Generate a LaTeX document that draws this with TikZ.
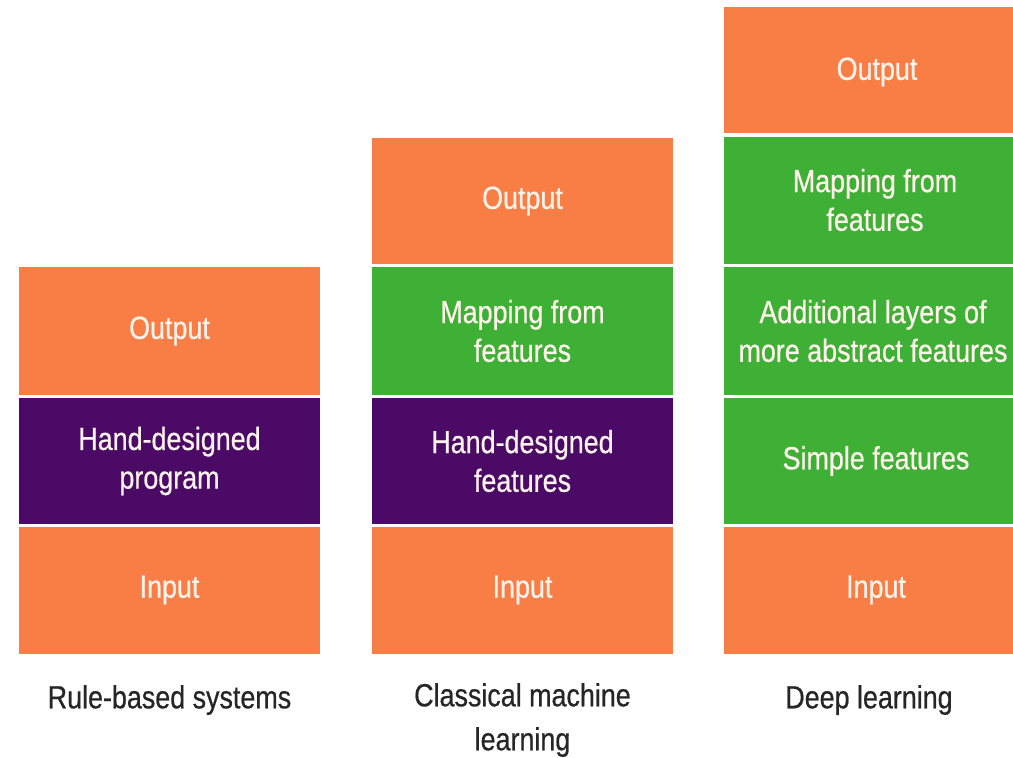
\documentclass[tikz,border=0pt]{standalone}
\usepackage{fontspec}
\setmainfont[FakeStretch=0.84,FakeBold=0.6]{Liberation Sans}
\definecolor{orng}{HTML}{F87E46}
\definecolor{purp}{HTML}{4A0A66}
\definecolor{grn}{HTML}{3DB035}
\definecolor{txtw}{HTML}{FFF3EC}
\definecolor{lbl}{HTML}{262626}
\tikzset{
  layer/.style={draw=none, inner sep=0pt, align=center, text=txtw, font=\fontsize{24}{29}\selectfont},
  caption/.style={inner sep=0pt, align=center, text=lbl, font=\fontsize{24}{33}\selectfont}
}
\begin{document}
\begin{tikzpicture}[x=0.75pt, y=-0.75pt]
\useasboundingbox (0,0) rectangle (1013,757);
\fill[white] (0,0) rectangle (1013,757);
% column 1
\fill[orng] (19,267) rectangle (320,395);
\fill[purp] (19,398) rectangle (320,524);
\fill[orng] (19,527) rectangle (320,654);
\node[layer] (c1out) at (169.5,331) {Output};
\node[layer] (c1prog) at (169.5,461) {Hand-designed\\program};
\node[layer] (c1in) at (169.5,590) {Input};
\node[caption] (c1lbl) at (169.5,700) {Rule-based systems};
% column 2
\fill[orng] (372,138) rectangle (673,264);
\fill[grn] (372,267) rectangle (673,395);
\fill[purp] (372,398) rectangle (673,524);
\fill[orng] (372,527) rectangle (673,654);
\node[layer] (c2out) at (522.5,201) {Output};
\node[layer] (c2map) at (522.5,331) {Mapping from\\features};
\node[layer] (c2feat) at (522.5,461) {Hand-designed\\features};
\node[layer] (c2in) at (522.5,590) {Input};
\node[caption] (c2lbl) at (522.5,720) {Classical machine\\learning};
% column 3
\fill[orng] (724,7) rectangle (1013,133);
\fill[grn] (724,137) rectangle (1013,264);
\fill[grn] (724,267) rectangle (1013,395);
\fill[grn] (724,398) rectangle (1013,524);
\fill[orng] (724,527) rectangle (1013,654);
\node[layer] (c3out) at (877,72) {Output};
\node[layer] (c3map) at (875,200) {Mapping from\\features};
\node[layer] (c3add) at (873,331) {Additional layers of\\more abstract features};
\node[layer] (c3simp) at (876,461) {Simple features};
\node[layer] (c3in) at (876,590) {Input};
\node[caption] (c3lbl) at (869,700) {Deep learning};
\end{tikzpicture}
\end{document}
